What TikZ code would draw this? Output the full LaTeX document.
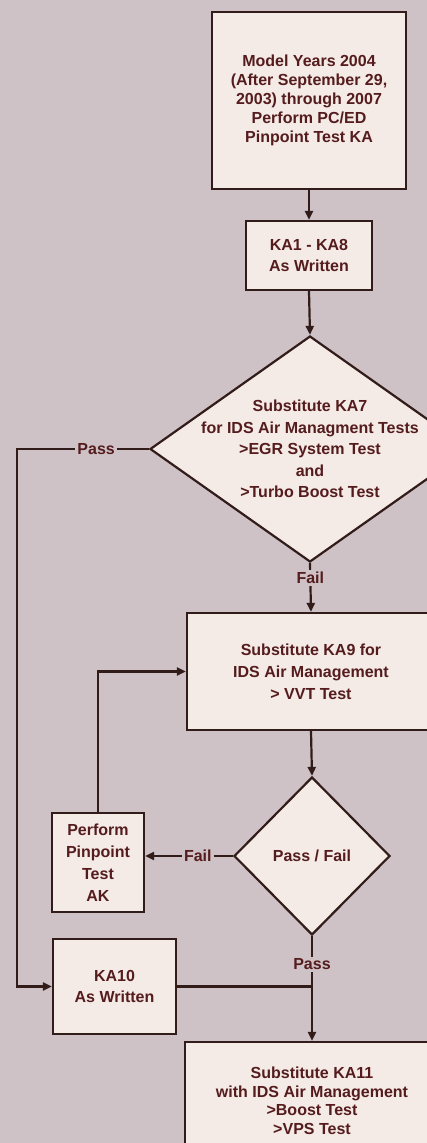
\documentclass[tikz,border=0pt]{standalone}
\usepackage{fontspec}
\setmainfont{Liberation Sans}
\usetikzlibrary{shapes.geometric,arrows.meta}
\definecolor{bg}{RGB}{206,194,199}
\definecolor{boxfill}{RGB}{244,234,230}
\definecolor{ink}{RGB}{50,28,26}
\definecolor{txt}{RGB}{85,28,30}
\begin{document}
\begin{tikzpicture}[x=1pt,y=-1pt,
  every node/.style={font=\bfseries\fontsize{16}{19}\selectfont, text=txt},
  box/.style={draw=ink, line width=2.2pt, fill=boxfill, align=center, inner sep=0pt},
  dia/.style={diamond, draw=ink, line width=2.2pt, fill=boxfill, inner sep=0pt, aspect=1, align=center},
  lbl/.style={fill=bg, inner sep=2pt},
  conn/.style={draw=ink, line width=2.2pt},
  arr/.style={conn, -{Triangle[length=9pt,width=8pt]}}]
\fill[bg] (0,0) rectangle (427,1143);
\useasboundingbox (0,0) rectangle (427,1143);
\clip (0,0) rectangle (427,1143);

\node[box, minimum width=194pt, minimum height=177pt] (top) at (309,100.5)
  {Model Years 2004\\(After September 29,\\2003) through 2007\\Perform PC/ED\\Pinpoint Test KA};
\node[box, minimum width=126pt, minimum height=69pt, font=\bfseries\fontsize{16}{21}\selectfont] (ka1) at (309,255.5)
  {KA1 - KA8\\As Written};
\node[dia, minimum width=320pt, minimum height=226pt] (d1) at (310,449) {};
\node[align=center, font=\bfseries\fontsize{16}{21.5}\selectfont] (d1t) at (d1.center)
  {Substitute KA7\\for IDS Air Managment Tests\\>EGR System Test\\and\\>Turbo Boost Test};
\node[box, minimum width=248pt, minimum height=117pt, font=\bfseries\fontsize{16}{22}\selectfont] (b3) at (311,671.5)
  {Substitute KA9 for\\IDS Air Management\\> VVT Test};
\node[dia, minimum width=156pt, minimum height=158pt] (d2) at (312,856) {Pass / Fail};
\node[box, minimum width=92pt, minimum height=99pt, font=\bfseries\fontsize{16}{22}\selectfont] (ak) at (98,862.5)
  {Perform\\Pinpoint\\Test\\AK};
\node[box, minimum width=123pt, minimum height=95pt, font=\bfseries\fontsize{16}{21}\selectfont] (ka10) at (114.5,986.5)
  {KA10\\As Written};
\node[box, minimum width=254pt, minimum height=118pt, font=\bfseries\fontsize{16}{18.5}\selectfont] (b4) at (312,1101)
  {Substitute KA11\\with IDS Air Management\\>Boost Test\\>VPS Test};

\coordinate (passx) at (17,0);
\draw[arr] (top.south) -- (ka1.north);
\draw[arr] (ka1.south) -- (d1.north);
\draw[arr] (d1.south) -- node[lbl, pos=0.3] {Fail} (b3.north);
\draw[arr] (b3.south) -- (d2.north);
\draw[arr] (d2.west) -- node[lbl, pos=0.4] {Fail} (d2.west -| ak.east);
\draw[arr] (ak.north) |- (b3.west);
\draw[arr] (d1.west) -- node[lbl, pos=0.4] {Pass} (d1.west -| passx) |- (ka10.west);
\draw[arr] (d2.south) -- node[lbl, pos=0.27] {Pass} (b4.north);
\draw[conn] (ka10.east) -- (ka10.east -| d2.south);
\end{tikzpicture}
\end{document}
